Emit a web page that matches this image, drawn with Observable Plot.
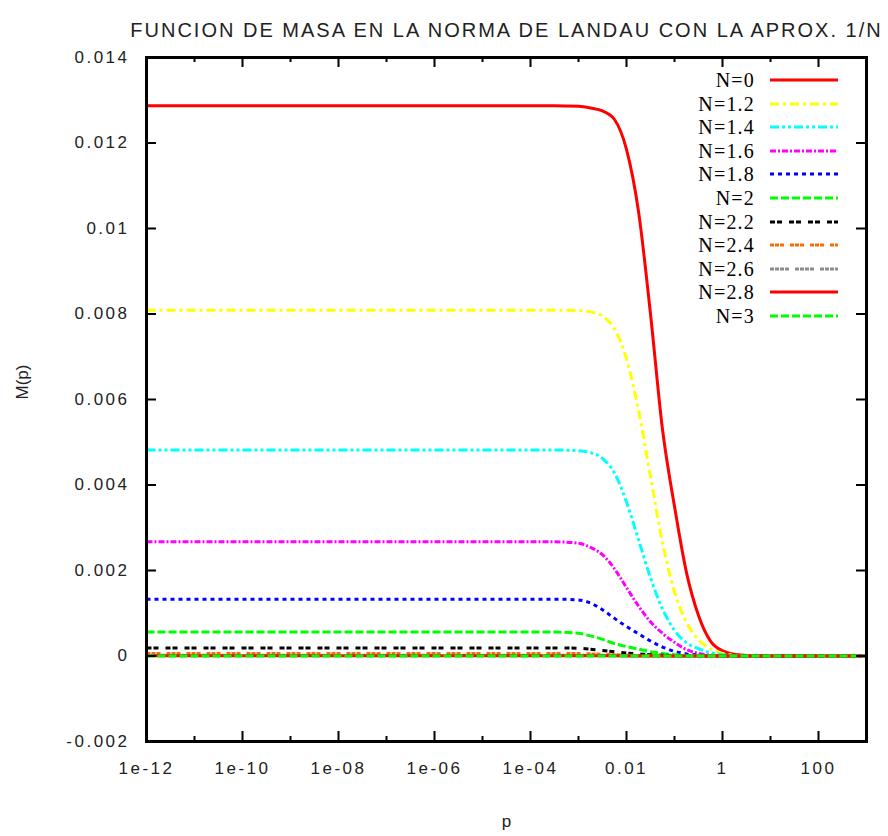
<!DOCTYPE html>
<html><head><meta charset="utf-8">
<script src="https://cdn.jsdelivr.net/npm/d3@7"></script>
<script src="https://cdn.jsdelivr.net/npm/@observablehq/plot@0.6"></script>
<style>
body{margin:0;background:#fff;}
#wrap{position:relative;width:888px;height:836px;}
#legend{position:absolute;left:0;top:0;width:888px;height:836px;pointer-events:none;font-family:"Liberation Serif","Times New Roman",serif;font-size:20px;color:#000;letter-spacing:1.2px;}
.lab{position:absolute;height:24px;line-height:24px;text-align:right;white-space:nowrap;}
.smp{position:absolute;}
svg text.ticklab{letter-spacing:2.5px;font-size:17px;}
</style></head><body><div id="wrap"><div id="legend"></div></div>
<script>
// ---- data ----
const logP = [-12, -3.5, -3, -2.75, -2.5, -2.25, -2, -1.75, -1.5, -1.25, -1, -0.75, -0.5, -0.25, 0, 0.25, 0.5, 1, 3];
const N0  = [0.01287, 0.01287, 0.01286, 0.01282, 0.01275, 0.01255, 0.01185, 0.01040, 0.00800, 0.00530, 0.00350, 0.00195, 0.00095, 0.00035, 0.00012, 0.00004, 0.00001, 0, 0];
const N12 = [0.00809, 0.00809, 0.00808, 0.00805, 0.00795, 0.00765, 0.00695, 0.00575, 0.00420, 0.00265, 0.00150, 0.00078, 0.00038, 0.00017, 0.00006, 0.00002, 0, 0, 0];
const N14 = [0.00482, 0.00482, 0.00480, 0.00476, 0.00462, 0.00428, 0.00360, 0.00272, 0.00183, 0.00110, 0.00060, 0.00031, 0.00017, 0.00008, 0.00003, 0.00001, 0, 0, 0];
const N16 = [0.00267, 0.00267, 0.00264, 0.00254, 0.00237, 0.00204, 0.00160, 0.00117, 0.00080, 0.00053, 0.00032, 0.00015, 0.00006, 0.00002, 0, 0, 0, 0, 0];
const N18 = [0.00133, 0.00133, 0.00131, 0.00124, 0.00108, 0.00088, 0.00069, 0.00052, 0.00035, 0.00021, 0.00011, 0.00005, 0.00002, 0, 0, 0, 0, 0, 0];
const N20 = [0.00056, 0.00056, 0.00053, 0.00047, 0.00039, 0.00029, 0.00022, 0.00016, 0.00010, 0.00006, 0.00003, 0.00001, 0, 0, 0, 0, 0, 0, 0];
const N22 = [0.00019, 0.00019, 0.00018, 0.00016, 0.00013, 0.00010, 0.00007, 0.00005, 0.00003, 0.00002, 0.00001, 0, 0, 0, 0, 0, 0, 0, 0];
const N24 = [0.00006, 0.00006, 0.00006, 0.00005, 0.00004, 0.00003, 0.00002, 0.00001, 0.00001, 0, 0, 0, 0, 0, 0, 0, 0, 0, 0];
const N26 = [0.00002, 0.00002, 0.00002, 0.000018, 0.000015, 0.000012, 0.00001, 0.000005, 0, 0, 0, 0, 0, 0, 0, 0, 0, 0, 0];
const N28 = [0.000006, 0.000006, 0.000006, 0.000005, 0.000004, 0.000003, 0.000002, 0.000001, 0, 0, 0, 0, 0, 0, 0, 0, 0, 0, 0];
const N30 = [0.000002, 0.000002, 0.000002, 0.0000015, 0.000001, 0.000001, 0, 0, 0, 0, 0, 0, 0, 0, 0, 0, 0, 0, 0];

const seriesNames = ["N=0", "N=1.2", "N=1.4", "N=1.6", "N=1.8", "N=2", "N=2.2", "N=2.4", "N=2.6", "N=2.8", "N=3"];
const seriesValues = [N0, N12, N14, N16, N18, N20, N22, N24, N26, N28, N30];
const seriesColors = ["#ff0000", "#ffff00", "#00ffff", "#ff00ff", "#0000ff", "#00ff00", "#000000", "#ff6a00", "#8c8c8c", "#ff0000", "#00ff00"];
const seriesDash = [null, "9,4,3,4", "9,3,3,3,3,3", "6,2,2,2", "4,4", "8,3", "5,2,5,7", "4,1,4,1,4,6", "4,1,4,1,4,1,4,6", null, "8,3"];

const xMajor = [1e-12, 1e-10, 1e-8, 1e-6, 1e-4, 1e-2, 1, 100];
const xMinor = [1e-11, 1e-9, 1e-7, 1e-5, 1e-3, 1e-1, 10];
const xTickLabels = ["1e-12", "1e-10", "1e-08", "1e-06", "1e-04", "0.01", "1", "100"];
const yTicks = [-0.002, 0, 0.002, 0.004, 0.006, 0.008, 0.01, 0.012, 0.014];
const yTickLabels = ["-0.002", "0", "0.002", "0.004", "0.006", "0.008", "0.01", "0.012", "0.014"];
const title = "FUNCION DE MASA EN LA NORMA DE LANDAU CON LA APROX. 1/N";
const xLabel = "p";
const yLabel = "M(p)";

// ---- chart ----
const W = 888, H = 836, mL = 146, mR = 22, mT = 57, mB = 95;
const fw = W - mL - mR, fh = H - mT - mB;
const majorLen = 10, minorLen = 5;

const lineMarks = seriesNames.map((name, s) => {
  const rows = logP.map((l, i) => ({p: 10 ** l, M: seriesValues[s][i]}));
  return Plot.line(rows, {x: "p", y: "M", stroke: seriesColors[s], strokeWidth: 3,
    strokeDasharray: seriesDash[s] ?? undefined, curve: "monotone-x", strokeLinecap: "butt"});
});

const chart = Plot.plot({
  width: W, height: H,
  marginLeft: mL, marginRight: mR, marginTop: mT, marginBottom: mB,
  x: {type: "log", domain: [1e-12, 1e3]},
  y: {domain: [-0.002, 0.014]},
  style: {fontFamily: "'Liberation Sans', Arial, sans-serif", fontSize: "16px", color: "#222", background: "white", overflow: "visible"},
  marks: [
    ...lineMarks,
    // inward ticks
    Plot.tickX(xMajor, {x: d => d, stroke: "black", strokeWidth: 2, insetTop: fh - majorLen}),
    Plot.tickX(xMajor, {x: d => d, stroke: "black", strokeWidth: 2, insetBottom: fh - majorLen}),
    Plot.tickX(xMinor, {x: d => d, stroke: "black", strokeWidth: 2, insetTop: fh - minorLen}),
    Plot.tickX(xMinor, {x: d => d, stroke: "black", strokeWidth: 2, insetBottom: fh - minorLen}),
    Plot.tickY(yTicks, {y: d => d, stroke: "black", strokeWidth: 2, insetRight: fw - majorLen}),
    Plot.tickY(yTicks, {y: d => d, stroke: "black", strokeWidth: 2, insetLeft: fw - majorLen}),
    Plot.frame({stroke: "black", strokeWidth: 3}),
    Plot.axisX(xMajor, {tickSize: 0, tickPadding: 20, label: null, className: "xax",
      tickFormat: d => xTickLabels[xMajor.indexOf(d)]}),
    Plot.axisY(yTicks, {tickSize: 0, tickPadding: 17, label: null, className: "yax",
      tickFormat: d => yTickLabels[yTicks.indexOf(d)]}),
    Plot.text([title], {frameAnchor: "top", dy: -35, fontSize: 20, fill: "#222", className: "ttl"}),
    Plot.text([xLabel], {frameAnchor: "bottom", dy: 85, fontSize: 17, fill: "#222"}),
    Plot.text([yLabel], {frameAnchor: "left", dx: -124, rotate: -90, fontSize: 17, fill: "#222"})
  ]
});
chart.querySelectorAll(".xax text, .yax text").forEach(t => t.classList.add("ticklab"));
chart.querySelectorAll(".ttl text").forEach(t => t.style.letterSpacing = "2px");
document.getElementById("wrap").prepend(chart);

// ---- legend (HTML overlay) ----
const legend = document.getElementById("legend");
const legTop = 80, legStep = 23.6, textRight = 755, sampleX = 770, sampleW = 68;
seriesNames.forEach((name, s) => {
  const cy = legTop + legStep * s;
  const lab = document.createElement("div");
  lab.className = "lab";
  lab.style.right = (W - textRight) + "px";
  lab.style.top = (cy - 12) + "px";
  lab.textContent = name;
  legend.appendChild(lab);
  const ns = "http://www.w3.org/2000/svg";
  const sv = document.createElementNS(ns, "svg");
  sv.setAttribute("class", "smp");
  sv.setAttribute("width", sampleW);
  sv.setAttribute("height", 8);
  sv.style.left = sampleX + "px";
  sv.style.top = (cy - 4) + "px";
  const ln = document.createElementNS(ns, "line");
  ln.setAttribute("x1", 0); ln.setAttribute("x2", sampleW);
  ln.setAttribute("y1", 4); ln.setAttribute("y2", 4);
  ln.setAttribute("stroke", seriesColors[s]);
  ln.setAttribute("stroke-width", 3);
  if (seriesDash[s]) ln.setAttribute("stroke-dasharray", seriesDash[s]);
  sv.appendChild(ln);
  legend.appendChild(sv);
});
</script></body></html>
